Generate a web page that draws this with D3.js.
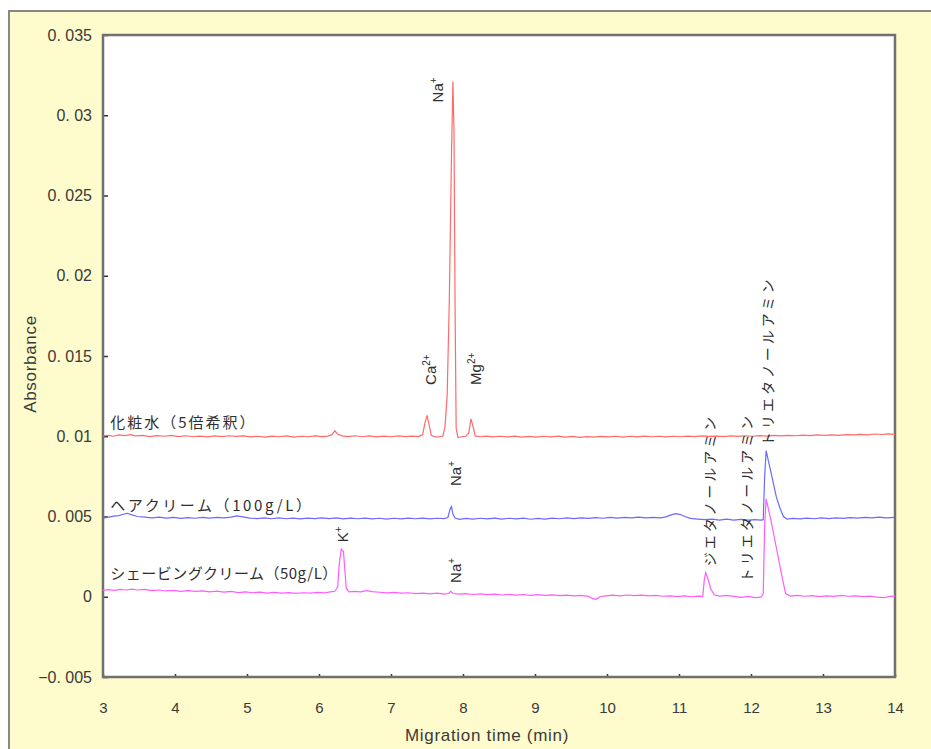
<!DOCTYPE html>
<meta charset="utf-8">
<style>
body { margin: 0; background: #fff; }
svg { display: block; }
.tick text { font-family: "Liberation Sans", Arial, sans-serif; fill: #3a3a3a; }
.tick line { stroke: #333; stroke-width: 1.5; }
.jp { font-family: "Noto Sans CJK JP", sans-serif; fill: #2e2e2e; }
.title { font-family: "Liberation Sans", Arial, sans-serif; font-size: 17px; letter-spacing: 0.7px; fill: #3a3a3a; }
.ion { font-family: "Liberation Sans", Arial, sans-serif; font-size: 15px; fill: #2e2e2e; }
</style>
<script src="https://cdn.jsdelivr.net/npm/d3@7"></script>
<svg id="chart" width="931" height="749"></svg>
<script>
// electropherograms, [migration time (min), absorbance]
var toner = [
  [3.00,0.01002],[3.08,0.01006],[3.15,0.01000],[3.22,0.01008],[3.30,0.01004],[3.38,0.01010],[3.45,0.01002],[3.55,0.01006],
  [3.65,0.00998],[3.75,0.01004],[3.85,0.01000],[3.95,0.01005],[4.05,0.00998],[4.15,0.01003],[4.25,0.00997],[4.35,0.01001],
  [4.45,0.00996],[4.55,0.01002],[4.65,0.00998],[4.75,0.01003],[4.85,0.00999],[4.95,0.01002],[5.05,0.00996],[5.15,0.01000],
  [5.25,0.00995],[5.35,0.01001],[5.45,0.00997],[5.55,0.01002],[5.65,0.00994],[5.75,0.01000],[5.85,0.00997],[5.95,0.01002],
  [6.05,0.00998],[6.12,0.01001],[6.18,0.01010],[6.22,0.01034],[6.26,0.01012],[6.32,0.01002],[6.40,0.00998],[6.50,0.01003],
  [6.60,0.00997],[6.70,0.01002],[6.80,0.00996],[6.90,0.01001],[7.00,0.00997],[7.10,0.01002],[7.20,0.00998],[7.30,0.01001],
  [7.38,0.00998],[7.44,0.01010],[7.47,0.01080],[7.50,0.01130],[7.53,0.01070],[7.56,0.01005],[7.62,0.00996],[7.68,0.00997],
  [7.72,0.01000],[7.75,0.01060],[7.78,0.01250],[7.81,0.01850],[7.84,0.02750],[7.86,0.03210],[7.875,0.02900],[7.89,0.01800],
  [7.905,0.01050],[7.93,0.00992],[7.98,0.00997],[8.04,0.01000],[8.08,0.01020],[8.11,0.01108],[8.14,0.01060],[8.17,0.01002],
  [8.24,0.00997],[8.32,0.01001],[8.42,0.00996],[8.52,0.01000],[8.62,0.00996],[8.72,0.01001],[8.82,0.00995],[8.92,0.00999],
  [9.02,0.00994],[9.12,0.01000],[9.22,0.00996],[9.32,0.01001],[9.42,0.00995],[9.52,0.00999],[9.62,0.00993],[9.72,0.00998],
  [9.82,0.00994],[9.92,0.00999],[10.02,0.00996],[10.12,0.01000],[10.22,0.00995],[10.32,0.01000],[10.42,0.00996],[10.52,0.01001],
  [10.62,0.00997],[10.72,0.01000],[10.82,0.00996],[10.92,0.01000],[11.02,0.00997],[11.12,0.01001],[11.22,0.00998],[11.32,0.01002],
  [11.42,0.00999],[11.52,0.01001],[11.62,0.00998],[11.72,0.01002],[11.82,0.00999],[11.92,0.01003],[12.02,0.01000],[12.12,0.01004],
  [12.22,0.01001],[12.32,0.01005],[12.42,0.01002],[12.52,0.01006],[12.62,0.01003],[12.72,0.01007],[12.82,0.01004],[12.92,0.01008],
  [13.02,0.01005],[13.12,0.01009],[13.22,0.01006],[13.32,0.01010],[13.42,0.01008],[13.52,0.01012],[13.62,0.01009],[13.72,0.01014],
  [13.82,0.01011],[13.90,0.01015],[14.00,0.01012]
];

var hairCream = [
  [3.00,0.00490],[3.08,0.00496],[3.15,0.00502],[3.22,0.00506],[3.28,0.00514],[3.34,0.00520],[3.40,0.00510],[3.48,0.00500],
  [3.58,0.00496],[3.68,0.00492],[3.78,0.00496],[3.88,0.00490],[3.98,0.00494],[4.08,0.00488],[4.18,0.00493],[4.28,0.00489],
  [4.38,0.00494],[4.48,0.00490],[4.58,0.00494],[4.68,0.00491],[4.78,0.00496],[4.86,0.00504],[4.94,0.00498],[5.04,0.00490],
  [5.14,0.00487],[5.24,0.00492],[5.34,0.00486],[5.44,0.00491],[5.54,0.00486],[5.64,0.00490],[5.74,0.00485],[5.84,0.00490],
  [5.94,0.00487],[6.04,0.00492],[6.14,0.00487],[6.24,0.00491],[6.34,0.00485],[6.44,0.00490],[6.54,0.00486],[6.64,0.00490],
  [6.74,0.00485],[6.84,0.00489],[6.94,0.00484],[7.04,0.00489],[7.14,0.00485],[7.24,0.00490],[7.34,0.00486],[7.44,0.00490],
  [7.54,0.00485],[7.64,0.00489],[7.74,0.00487],[7.79,0.00494],[7.82,0.00545],[7.84,0.00562],[7.86,0.00515],[7.89,0.00490],
  [7.95,0.00482],[8.04,0.00488],[8.14,0.00484],[8.24,0.00489],[8.34,0.00485],[8.44,0.00490],[8.54,0.00484],[8.64,0.00489],
  [8.74,0.00485],[8.84,0.00490],[8.94,0.00483],[9.04,0.00488],[9.14,0.00484],[9.24,0.00490],[9.34,0.00486],[9.44,0.00491],
  [9.54,0.00487],[9.64,0.00492],[9.74,0.00488],[9.84,0.00493],[9.94,0.00489],[10.04,0.00494],[10.14,0.00490],[10.24,0.00495],
  [10.34,0.00491],[10.44,0.00496],[10.54,0.00492],[10.64,0.00495],[10.74,0.00492],[10.82,0.00498],[10.90,0.00512],[10.96,0.00518],
  [11.02,0.00512],[11.08,0.00500],[11.16,0.00488],[11.26,0.00484],[11.36,0.00480],[11.46,0.00484],[11.56,0.00478],[11.66,0.00483],
  [11.76,0.00477],[11.86,0.00482],[11.96,0.00478],[12.06,0.00481],[12.14,0.00478],[12.17,0.00480],[12.19,0.00750],[12.21,0.00910],
  [12.25,0.00830],[12.30,0.00730],[12.35,0.00625],[12.40,0.00555],[12.45,0.00500],[12.50,0.00484],[12.58,0.00488],[12.68,0.00485],
  [12.78,0.00490],[12.88,0.00486],[12.98,0.00491],[13.08,0.00487],[13.18,0.00492],[13.28,0.00488],[13.38,0.00493],[13.48,0.00490],
  [13.58,0.00495],[13.68,0.00491],[13.78,0.00496],[13.88,0.00492],[14.00,0.00494]
];

var shavingCream = [
  [3.00,0.00040],[3.08,0.00044],[3.16,0.00040],[3.24,0.00046],[3.32,0.00042],[3.40,0.00048],[3.48,0.00042],[3.58,0.00046],
  [3.68,0.00038],[3.78,0.00042],[3.88,0.00036],[3.98,0.00040],[4.08,0.00034],[4.18,0.00038],[4.28,0.00033],[4.38,0.00037],
  [4.48,0.00031],[4.58,0.00035],[4.68,0.00029],[4.78,0.00033],[4.88,0.00026],[4.98,0.00030],[5.08,0.00025],[5.18,0.00029],
  [5.28,0.00023],[5.38,0.00027],[5.48,0.00022],[5.58,0.00026],[5.68,0.00021],[5.78,0.00025],[5.88,0.00022],[5.98,0.00027],
  [6.08,0.00025],[6.16,0.00030],[6.22,0.00034],[6.26,0.00060],[6.28,0.00200],[6.31,0.00298],[6.34,0.00280],[6.36,0.00160],
  [6.38,0.00050],[6.42,0.00030],[6.50,0.00033],[6.58,0.00030],[6.66,0.00038],[6.74,0.00032],[6.84,0.00028],[6.94,0.00024],
  [7.04,0.00027],[7.14,0.00022],[7.24,0.00025],[7.34,0.00020],[7.44,0.00023],[7.54,0.00018],[7.64,0.00022],[7.74,0.00017],
  [7.80,0.00020],[7.83,0.00034],[7.86,0.00020],[7.94,0.00016],[8.04,0.00019],[8.14,0.00014],[8.24,0.00018],[8.34,0.00013],
  [8.44,0.00016],[8.54,0.00011],[8.64,0.00015],[8.74,0.00010],[8.84,0.00014],[8.94,0.00009],[9.04,0.00013],[9.14,0.00008],
  [9.24,0.00012],[9.34,0.00007],[9.44,0.00010],[9.54,0.00005],[9.64,0.00008],[9.74,0.00002],[9.80,-0.00012],[9.85,-0.00016],
  [9.90,0.00000],[9.98,0.00006],[10.08,0.00010],[10.18,0.00006],[10.28,0.00011],[10.38,0.00007],[10.48,0.00010],[10.58,0.00005],
  [10.68,0.00009],[10.78,0.00003],[10.88,0.00006],[10.98,0.00001],[11.08,0.00005],[11.18,0.00000],[11.26,0.00004],[11.33,0.00002],
  [11.35,0.00100],[11.37,0.00150],[11.40,0.00115],[11.44,0.00050],[11.49,0.00012],[11.56,0.00004],[11.66,0.00008],[11.76,0.00002],
  [11.86,-0.00004],[11.96,0.00002],[12.06,-0.00006],[12.14,-0.00002],[12.17,0.00020],[12.19,0.00450],[12.21,0.00610],[12.28,0.00470],
  [12.35,0.00310],[12.42,0.00150],[12.48,0.00020],[12.55,0.00004],[12.65,0.00008],[12.75,0.00003],[12.85,0.00007],[12.95,0.00001],
  [13.05,0.00006],[13.15,0.00002],[13.25,0.00008],[13.35,0.00003],[13.45,0.00006],[13.55,0.00001],[13.65,0.00004],[13.75,-0.00002],
  [13.85,-0.00006],[13.93,0.00002],[14.00,0.00004]
];

var seriesNames = ["化粧水（5倍希釈）", "ヘアクリーム（100g/L）", "シェービングクリーム（50g/L）"];
var seriesColors = ["#ff6a6a", "#6a6aff", "#ff5cff"];

var xTicks = [3, 4, 5, 6, 7, 8, 9, 10, 11, 12, 13, 14];
var yTicks = [-0.005, 0, 0.005, 0.01, 0.015, 0.02, 0.025, 0.03, 0.035];
var yTickLabels = ["\u22120. 005", "0", "0. 005", "0. 01", "0. 015", "0. 02", "0. 025", "0. 03", "0. 035"];

// peak labels: text, superscript, anchor (time, absorbance) where the rotated text starts
var ionLabels = [
  ["Na", "+", 7.72, 0.0308],
  ["Ca", "2+", 7.62, 0.0132],
  ["Mg", "2+", 8.25, 0.0132],
  ["Na", "+", 7.97, 0.0069],
  ["K", "+", 6.40, 0.0034],
  ["Na", "+", 7.97, 0.00086]
];
var amineLabels = [
  ["ジエタノールアミン", 11.50, 0.0019],
  ["トリエタノールアミン", 12.02, 0.0009],
  ["トリエタノールアミン", 12.30, 0.0094]
];
var nameAnchors = [[3.10, 0.01051], [3.10, 0.00534], [3.10, 0.00111]];
var nameSpacing = [2, 2.6, 0.5];

var svg = d3.select("#chart");
var plotL = 103, plotT = 35, plotR = 895, plotB = 677;

var x = d3.scaleLinear().domain([3, 14]).range([plotL, plotR]);
var y = d3.scaleLinear().domain([-0.005, 0.035]).range([plotB, plotT]);

// outer panel
svg.append("rect")
    .attr("x", 9).attr("y", 11).attr("width", 1000).attr("height", 1000)
    .attr("fill", "#fefbcc").attr("stroke", "#888").attr("stroke-width", 2);

svg.append("rect")
    .attr("x", plotL).attr("y", plotT)
    .attr("width", plotR - plotL).attr("height", plotB - plotT)
    .attr("fill", "#fff");

var yAxis = svg.append("g")
    .attr("transform", "translate(" + plotL + ",0)")
    .call(d3.axisLeft(y).tickValues(yTicks).tickSize(-5).tickPadding(11)
        .tickFormat(function(d, i) { return yTickLabels[i]; }));
yAxis.select(".domain").remove();
yAxis.selectAll("text").style("font-size", "16px");

var xAxis = svg.append("g")
    .attr("transform", "translate(0," + plotB + ")")
    .call(d3.axisBottom(x).tickValues(xTicks).tickSize(-3).tickPadding(25)
        .tickFormat(d3.format("d")));
xAxis.select(".domain").remove();
xAxis.selectAll("text").style("font-size", "15px");

svg.append("rect")
    .attr("x", plotL).attr("y", plotT)
    .attr("width", plotR - plotL).attr("height", plotB - plotT)
    .attr("fill", "none").attr("stroke", "#707070").attr("stroke-width", 2.5);

var line = d3.line()
    .x(function(d) { return x(d[0]); })
    .y(function(d) { return y(d[1]); });

[toner, hairCream, shavingCream].forEach(function(s, i) {
    svg.append("path")
        .datum(s)
        .attr("d", line)
        .attr("fill", "none")
        .attr("stroke", seriesColors[i])
        .attr("stroke-width", 1.2);
});

// series names
seriesNames.forEach(function(name, i) {
    svg.append("text")
        .attr("class", "jp")
        .attr("x", x(nameAnchors[i][0]))
        .attr("y", y(nameAnchors[i][1]))
        .style("font-size", "15px")
        .style("letter-spacing", nameSpacing[i] + "px")
        .text(name);
});

// ion peak labels (rotated)
ionLabels.forEach(function(l) {
    var t = svg.append("text")
        .attr("class", "ion")
        .attr("transform", "translate(" + x(l[2]) + "," + y(l[3]) + ") rotate(-90)");
    t.append("tspan").text(l[0]);
    t.append("tspan").attr("dy", -6).style("font-size", "10px").text(l[1]);
});

amineLabels.forEach(function(l) {
    svg.append("text")
        .attr("class", "jp")
        .attr("transform", "translate(" + x(l[1]) + "," + y(l[2]) + ") rotate(-90)")
        .style("font-size", "14px")
        .style("letter-spacing", "3px")
        .text(l[0]);
});

// axis titles
svg.append("text")
    .attr("class", "title")
    .attr("transform", "translate(36," + ((plotT + plotB) / 2 + 8) + ") rotate(-90)")
    .attr("text-anchor", "middle")
    .text("Absorbance");

svg.append("text")
    .attr("class", "title")
    .attr("x", (plotL + plotR) / 2 - 12)
    .attr("y", 741)
    .attr("text-anchor", "middle")
    .text("Migration time (min)");
</script>
